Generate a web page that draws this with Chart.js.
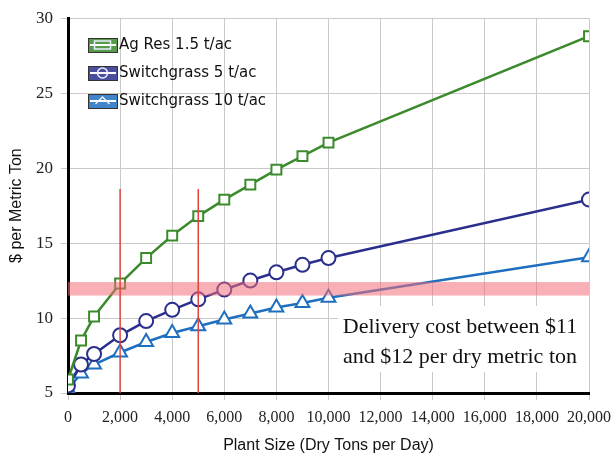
<!DOCTYPE html>
<html>
<head>
<meta charset="utf-8">
<script src="https://cdn.jsdelivr.net/npm/chart.js@4.4.0/dist/chart.umd.min.js"></script>
<style>
  html, body { margin: 0; padding: 0; background: #fff; }
  #chart { display: block; }
</style>
</head>
<body>
<canvas id="chart" width="613" height="455"></canvas>
<script>
// plant size (dry tons per day)
const plantSizes = [0, 500, 1000, 2000, 3000, 4000, 5000, 6000, 7000, 8000, 9000, 10000, 20000];
// $ per metric ton
const agRes15 = [5.9, 8.5, 10.1, 12.3, 14.0, 15.5, 16.8, 17.9, 18.9, 19.9, 20.8, 21.7, 28.8];
const switchgrass5 = [5.5, 6.9, 7.6, 8.85, 9.8, 10.55, 11.25, 11.9, 12.5, 13.05, 13.55, 14.0, 17.9];
const switchgrass10 = [5.25, 6.3, 6.9, 7.7, 8.4, 9.0, 9.45, 9.9, 10.3, 10.7, 11.0, 11.35, 14.05];
const seriesNames = ['Ag Res 1.5 t/ac', 'Switchgrass 5 t/ac', 'Switchgrass 10 t/ac'];

// delivery cost band and the two marked plant sizes
const bandLow = 11.5;
const bandHigh = 12.4;
const markedSizes = [2000, 5000];
const markedTop = 18.6;
const noteLines = ['Delivery cost between $11', 'and $12 per dry metric ton'];

const xTicks = [0, 2000, 4000, 6000, 8000, 10000, 12000, 14000, 16000, 18000, 20000];

const colores = ['#3b8a2c', '#2a2f8c', '#1f6fc0'];
const estilos = ['rect', 'circle', 'triangle'];

function puntos(valores) {
    return plantSizes.map((x, i) => ({ x: x, y: valores[i] }));
}

// banda roja, lineas verticales y el texto
const anotaciones = {
    id: 'anotaciones',
    afterDatasetsDraw(chart) {
        const ctx = chart.ctx;
        const xs = chart.scales.x;
        const ys = chart.scales.y;
        ctx.save();
        // banda
        ctx.fillStyle = 'rgba(242, 110, 120, 0.55)';
        const yA = ys.getPixelForValue(bandHigh);
        const yB = ys.getPixelForValue(bandLow);
        ctx.fillRect(xs.left, yA, xs.right - xs.left, yB - yA);
        // lineas verticales
        ctx.strokeStyle = '#e0463f';
        ctx.lineWidth = 1.5;
        markedSizes.forEach(s => {
            const px = xs.getPixelForValue(s);
            ctx.beginPath();
            ctx.moveTo(px, ys.getPixelForValue(markedTop));
            ctx.lineTo(px, ys.bottom);
            ctx.stroke();
        });
        // caja blanca con texto
        ctx.fillStyle = '#fff';
        ctx.fillRect(338, 306, xs.right - 338, 66);
        ctx.fillStyle = '#111';
        ctx.font = '22px "Liberation Serif", serif';
        ctx.textAlign = 'center';
        ctx.textBaseline = 'middle';
        ctx.fillText(noteLines[0], 460, 327);
        ctx.fillText(noteLines[1], 460, 357);
        ctx.restore();
    }
};

// leyenda dibujada a mano
const leyenda = {
    id: 'leyenda',
    afterDraw(chart) {
        const ctx = chart.ctx;
        ctx.save();
        seriesNames.forEach((nombre, i) => {
            const cy = 45 + i * 28;
            const bx = 88, bw = 29, bh = 14;
            ctx.fillStyle = colores[i];
            ctx.globalAlpha = 0.85;
            ctx.fillRect(bx, cy - bh / 2, bw, bh);
            ctx.globalAlpha = 1;
            ctx.strokeStyle = '#333';
            ctx.lineWidth = 1;
            ctx.strokeRect(bx + 0.5, cy - bh / 2 + 0.5, bw, bh);
            ctx.strokeStyle = '#fff';
            ctx.lineWidth = 2;
            ctx.beginPath();
            ctx.moveTo(bx + 2, cy);
            ctx.lineTo(bx + bw - 1, cy);
            ctx.stroke();
            ctx.strokeStyle = '#e8f0ff';
            ctx.lineWidth = 1.5;
            ctx.beginPath();
            if (estilos[i] === 'rect') {
                ctx.rect(bx + bw / 2 - 8, cy - 4, 16, 8);
            } else if (estilos[i] === 'circle') {
                ctx.arc(bx + bw / 2, cy, 5, 0, Math.PI * 2);
            } else {
                ctx.moveTo(bx + bw / 2 - 7, cy + 3);
                ctx.lineTo(bx + bw / 2, cy - 4);
                ctx.lineTo(bx + bw / 2 + 7, cy + 3);
            }
            ctx.stroke();
            ctx.fillStyle = '#111';
            ctx.font = '15px "DejaVu Sans", sans-serif';
            ctx.textAlign = 'left';
            ctx.textBaseline = 'middle';
            ctx.fillText(nombre, 119, cy);
        });
        ctx.restore();
    }
};

const datasets = [agRes15, switchgrass5, switchgrass10].map((serie, i) => ({
    label: seriesNames[i],
    data: puntos(serie),
    borderColor: colores[i],
    backgroundColor: '#fff',
    borderWidth: 2.5,
    pointStyle: estilos[i],
    pointRadius: estilos[i] === 'triangle' ? 8 : 7,
    pointBorderWidth: 2,
    pointBackgroundColor: '#fff',
    pointBorderColor: colores[i],
    tension: 0
}));

new Chart(document.getElementById('chart'), {
    type: 'line',
    data: { datasets: datasets },
    options: {
        responsive: false,
        animation: false,
        layout: { padding: { top: 18, right: 24, left: 0, bottom: 0 } },
        plugins: {
            legend: { display: false },
            tooltip: { enabled: false }
        },
        scales: {
            x: {
                type: 'linear',
                min: 0,
                max: 20000,
                afterBuildTicks: scale => { scale.ticks = xTicks.map(v => ({ value: v })); },
                afterFit: scale => {
                    scale.height = 62;
                    scale.paddingLeft = 0;
                    scale.paddingRight = 0;
                },
                ticks: {
                    color: '#222',
                    font: { family: '"Liberation Serif", serif', size: 16 },
                    padding: 8,
                    maxRotation: 0,
                    autoSkip: false,
                    callback: v => v.toLocaleString('en-US')
                },
                grid: { color: '#c9c9c9', lineWidth: 1, tickLength: 7 },
                border: { color: '#000', width: 3 },
                title: {
                    display: true,
                    text: 'Plant Size (Dry Tons per Day)',
                    color: '#111',
                    font: { family: '"Liberation Sans", Arial, sans-serif', size: 16 },
                    padding: { top: 2, bottom: 0 }
                }
            },
            y: {
                min: 5,
                max: 30,
                afterFit: scale => { scale.width = 68; },
                ticks: {
                    stepSize: 5,
                    color: '#222',
                    font: { family: '"Liberation Serif", serif', size: 17 },
                    padding: 8
                },
                grid: { color: '#c9c9c9', lineWidth: 1, tickLength: 7 },
                border: { color: '#000', width: 3 },
                title: {
                    display: true,
                    text: '$ per Metric Ton',
                    color: '#111',
                    font: { family: '"Liberation Sans", Arial, sans-serif', size: 16 },
                    padding: { top: 7, bottom: 0 }
                }
            }
        }
    },
    plugins: [anotaciones, leyenda]
});
</script>
</body>
</html>
